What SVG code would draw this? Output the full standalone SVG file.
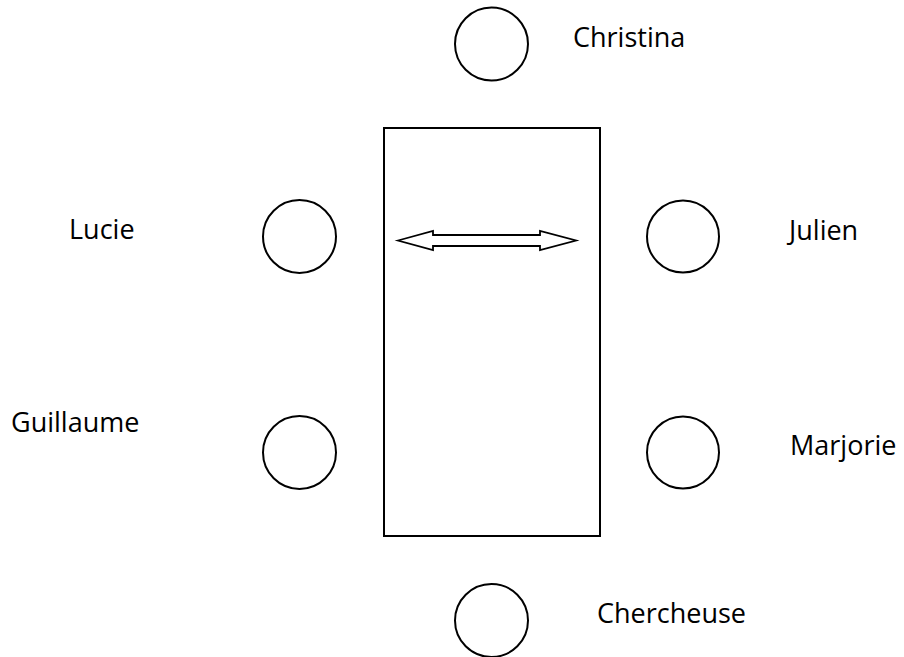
<svg xmlns="http://www.w3.org/2000/svg" width="904" height="657" viewBox="0 0 904 657">
<style>
  .seat { fill: #ffffff; stroke: #000000; stroke-width: 2; }
  .table { fill: #ffffff; stroke: #000000; stroke-width: 2; }
  .arrow { fill: #ffffff; stroke: #000000; stroke-width: 1.8; stroke-linejoin: miter; }
  .label { font-family: "Open Sans", "Liberation Sans", sans-serif; font-size: 27px; fill: #000000; font-variant-ligatures: none; }
</style>
<rect width="904" height="657" fill="#ffffff"/>
<g id="table">
  <rect class="table" x="384" y="128" width="216" height="408"/>
</g>
<g id="connectors">
  <polygon class="arrow" points="398,240.5 433,231 433,235 540,235 540,231 576,240.5 540,250 540,246 433,246 433,250"/>
</g>
<g id="christina">
  <circle class="seat" cx="491.5" cy="44" r="36.5"/>
  <text class="label" x="573" y="47">Christina</text>
</g>
<g id="lucie">
  <circle class="seat" cx="299.5" cy="236.5" r="36.5"/>
  <text class="label" x="69" y="239">Lucie</text>
</g>
<g id="julien">
  <circle class="seat" cx="683" cy="236.5" r="36"/>
  <text class="label" x="789" y="240">Julien</text>
</g>
<g id="guillaume">
  <circle class="seat" cx="299.5" cy="452.5" r="36.5"/>
  <text class="label" x="11" y="432">Guillaume</text>
</g>
<g id="marjorie">
  <circle class="seat" cx="683" cy="452.5" r="36"/>
  <text class="label" x="790" y="455">Marjorie</text>
</g>
<g id="chercheuse">
  <circle class="seat" cx="491.5" cy="620.5" r="36.5"/>
  <text class="label" x="597" y="623">Chercheuse</text>
</g>
</svg>
